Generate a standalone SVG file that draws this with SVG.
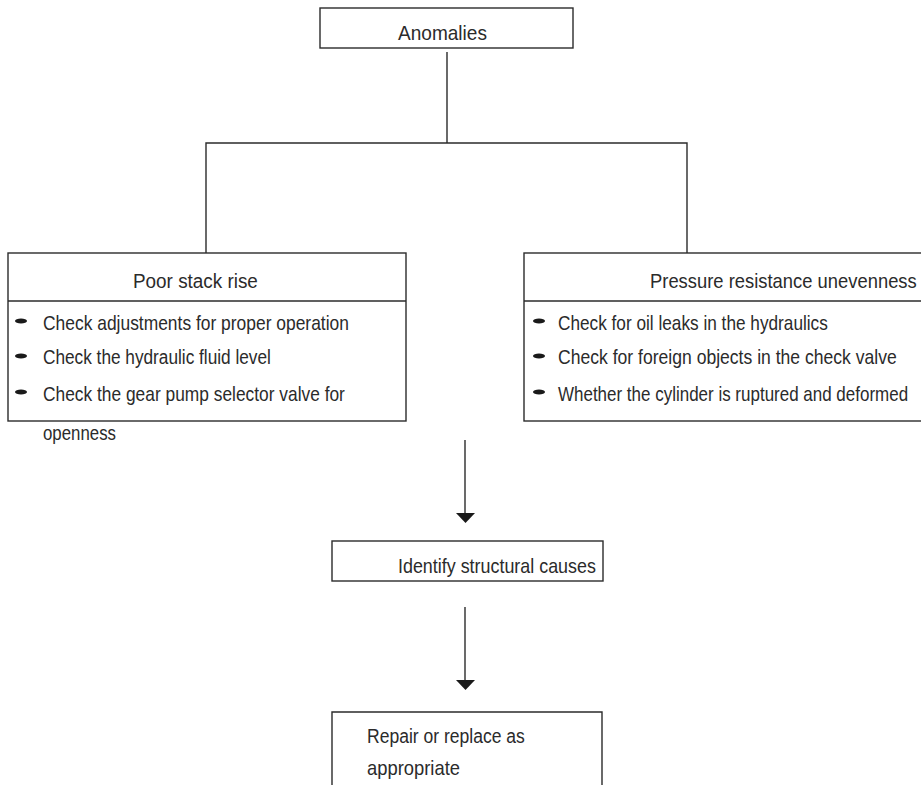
<svg xmlns="http://www.w3.org/2000/svg" width="921" height="785" viewBox="0 0 921 785">
<style>
.box{fill:#fff;stroke:#2b2b2b;stroke-width:1.4}
.ln{fill:none;stroke:#2b2b2b;stroke-width:1.4}
.t{font-family:"Liberation Sans",Arial,sans-serif;font-size:20px;fill:#2b2b2b}
.bul{fill:#1a1a1a}
.ah{fill:#1a1a1a}
</style>
<rect width="921" height="785" fill="#fff"/>
<g id="connectors">
<path class="ln" d="M447,52 V143 M206,253 V143 H687 V253"/>
<path class="ln" d="M465,440 V514"/>
<polygon class="ah" points="456,513 475,513 465.5,523"/>
<path class="ln" d="M465,607 V681"/>
<polygon class="ah" points="456,680 475,680 465.5,690"/>
</g>
<g id="anomalies">
<rect class="box" x="320" y="8" width="253" height="40"/>
<text class="t" transform="translate(398,40) scale(0.953,1)">Anomalies</text>
</g>
<g id="poor-stack-rise">
<rect class="box" x="8" y="253" width="398" height="168"/>
<line class="ln" x1="8" y1="301" x2="406" y2="301"/>
<text class="t" transform="translate(133,288) scale(0.945,1)">Poor stack rise</text>
<ellipse class="bul" cx="21" cy="321" rx="6" ry="2.5"/>
<ellipse class="bul" cx="21" cy="356" rx="6" ry="2.5"/>
<ellipse class="bul" cx="21" cy="392" rx="6" ry="2.5"/>
<text class="t" transform="translate(43,330) scale(0.871,1)">Check adjustments for proper operation</text>
<text class="t" transform="translate(43,364) scale(0.862,1)">Check the hydraulic fluid level</text>
<text class="t" transform="translate(43,401) scale(0.868,1)">Check the gear pump selector valve for</text>
<text class="t" transform="translate(43,440) scale(0.842,1)">openness</text>
</g>
<g id="pressure-resistance">
<rect class="box" x="524" y="253" width="420" height="168"/>
<line class="ln" x1="524" y1="301" x2="921" y2="301"/>
<text class="t" transform="translate(650,288) scale(0.92,1)">Pressure resistance unevenness</text>
<ellipse class="bul" cx="539" cy="321" rx="6" ry="2.5"/>
<ellipse class="bul" cx="539" cy="356" rx="6" ry="2.5"/>
<ellipse class="bul" cx="539" cy="392" rx="6" ry="2.5"/>
<text class="t" transform="translate(558,330) scale(0.861,1)">Check for oil leaks in the hydraulics</text>
<text class="t" transform="translate(558,364) scale(0.879,1)">Check for foreign objects in the check valve</text>
<text class="t" transform="translate(558,401) scale(0.849,1)">Whether the cylinder is ruptured and deformed</text>
</g>
<g id="identify">
<rect class="box" x="332" y="541" width="271" height="40"/>
<text class="t" transform="translate(398,573) scale(0.895,1)">Identify structural causes</text>
</g>
<g id="repair">
<path class="box" d="M332,786 V712 H602 V786"/>
<text class="t" transform="translate(367,743) scale(0.877,1)">Repair or replace as</text>
<text class="t" transform="translate(367,775) scale(0.919,1)">appropriate</text>
</g>
</svg>
